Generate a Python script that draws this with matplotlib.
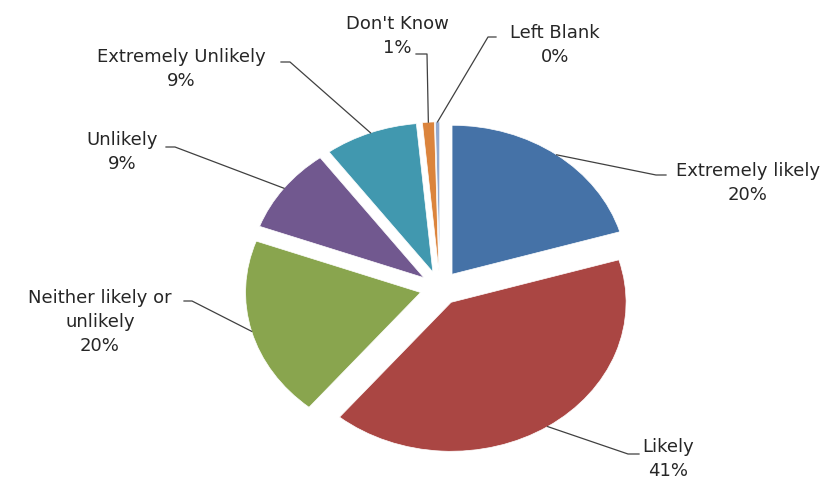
import numpy as np
import matplotlib
matplotlib.use('Agg')
import matplotlib.pyplot as plt

# survey answers (share of respondents, %)
categories = ['Extremely likely', 'Likely', 'Neither likely or\nunlikely', 'Unlikely',
              'Extremely Unlikely', "Don't Know", 'Left Blank']
shares = [20.4, 40.6, 19.6, 9.3, 8.6, 1.1, 0.4]
colors = ['#4572A7', '#AA4643', '#89A54E', '#71588F', '#4198AF', '#DB843D', '#93A9CF']

# where each label sits (pixels from top-left) and the elbow of its leader line
label_pos = [(748, 183), (668, 459), (100, 322), (122, 152), (181, 69), (397, 36), (555, 45)]
elbows = [(656, 176, 666), (628, 455, 639), (192, 302, 184), (175, 148, 166),
          (290, 63, 281), (427, 55, 416), (488, 38, 496)]

W, H = 831, 481
cx, cy, rx, ry = 440, 289, 175, 149
explode = 0.115


def px(x, y):
    return (x - cx) / rx, (cy - y) / ry


plt.rcParams['font.family'] = ['DejaVu Sans']
fig = plt.figure(figsize=(W / 100, H / 100), dpi=100)
ax = fig.add_axes([0, 0, 1, 1])
wedges, _ = ax.pie(shares, colors=colors, startangle=90, counterclock=False,
                   explode=[explode] * len(shares), radius=1,
                   wedgeprops=dict(edgecolor='white', linewidth=0.5))
ax.set_aspect('auto')
ax.set_xlim(-cx / rx, (W - cx) / rx)
ax.set_ylim(-(H - cy) / ry, cy / ry)
ax.axis('off')

for w, cat, val, lp, el in zip(wedges, categories, shares, label_pos, elbows):
    mid = np.deg2rad((w.theta1 + w.theta2) / 2)
    x0 = w.center[0] + np.cos(mid)
    y0 = w.center[1] + np.sin(mid)
    ex, ey = px(el[0], el[1])
    hx, _ = px(el[2], el[1])
    ax.plot([x0, ex, hx], [y0, ey, ey], color='#404040', lw=0.9)
    tx, ty = px(*lp)
    ax.text(tx, ty, f'{cat}\n{round(val)}%', ha='center', va='center',
            fontsize=13, color='#262626', linespacing=1.45)

fig.savefig('out.png', dpi=100)
